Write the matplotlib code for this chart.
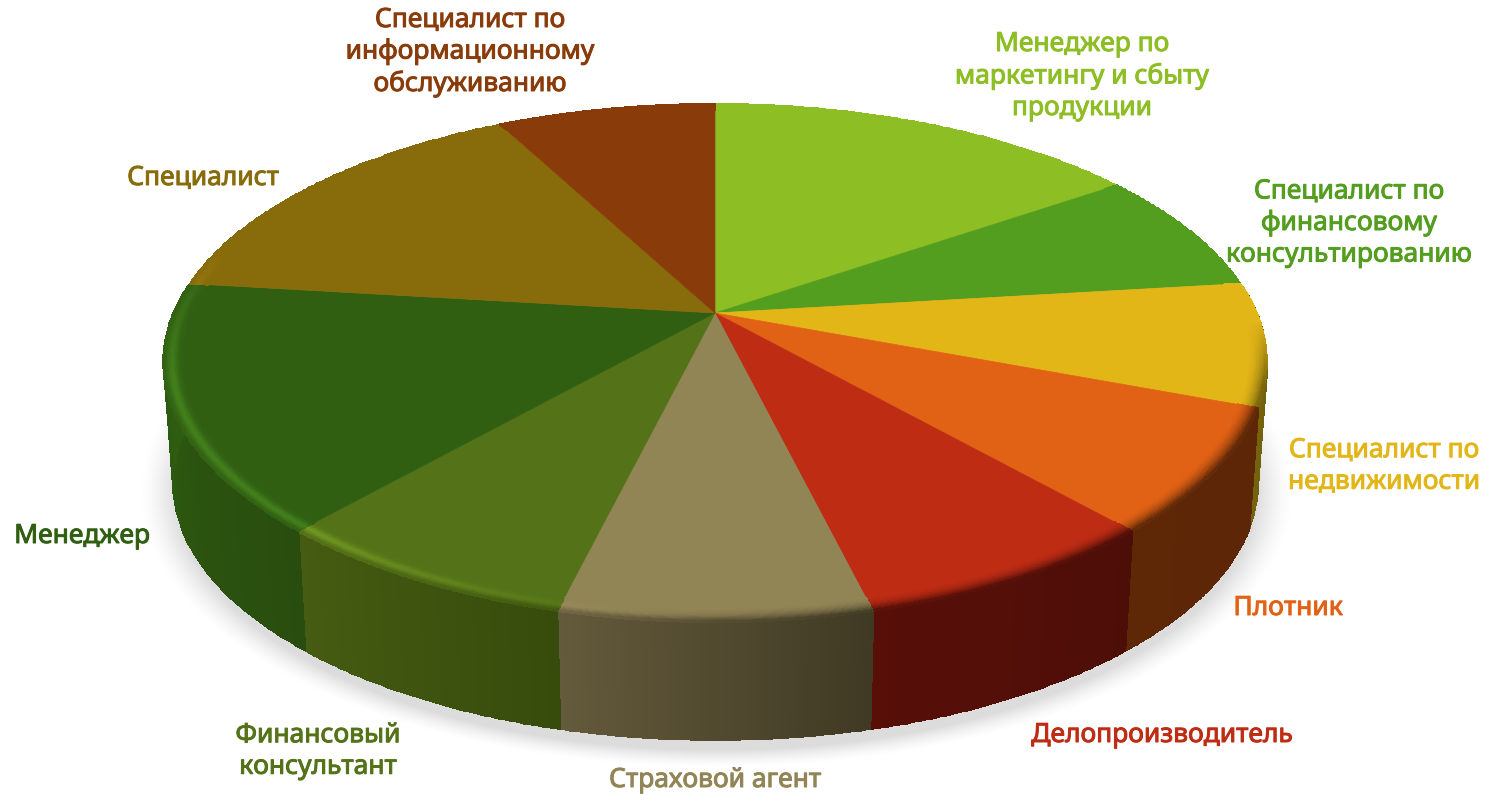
import matplotlib
matplotlib.use("Agg")
import matplotlib.pyplot as plt
import matplotlib.patheffects as pe
import numpy as np

# data
categories = ["Менеджер по\nмаркетингу и сбыту\nпродукции", "Специалист по\nфинансовому\nконсультированию",
              "Специалист по\nнедвижимости", "Плотник", "Делопроизводитель", "Страховой агент",
              "Финансовый\nконсультант", "Менеджер", "Специалист",
              "Специалист по\nинформационному\nобслуживанию"]
values = [2, 1, 1, 1, 1, 1, 1, 2, 2, 1]
colors = ["#8DBE24", "#539D1F", "#E3B618", "#E26215", "#BE2C14",
          "#918455", "#547217", "#305F12", "#886C0B", "#893B0A"]

# side wall colours, right end / left end of each slice
wall_right = ["#6A8C1A", "#3E7516", "#6B5A0A", "#5C2607", "#4E0E08",
              "#403A24", "#374C0C", "#294D0E", "#665008", "#672C07"]
wall_left = ["#6A8C1A", "#3E7516", "#75640C", "#5E2807", "#570F08",
             "#645A3C", "#465C12", "#2F6012", "#665008", "#672C07"]

label_x = [1082, 1349, 1384, 1288, 1162, 715, 318, 82, 203, 470]
label_y = [76, 223, 466, 608, 735, 780, 751, 536, 178, 52]

# projection of the pie
cx, cy = 715, 313
a, b, k = 541.6, 249.4, 0.193
drop, shrink = 123, 0.983


def proj(theta, r):
    th = np.radians(theta)
    u, v = r * np.sin(th), r * np.cos(th)
    w = 1 + k * v
    squeeze = 1 - 0.012 * np.minimum(v, 0) ** 2
    return cx + a * u * squeeze / w, cy - b * v / w


def rgb(c):
    return np.array(matplotlib.colors.to_rgb(c))


fig = plt.figure(figsize=(14.86, 7.94), dpi=100)
ax = fig.add_axes([0, 0, 1, 1])

# soft shadow under the pie
gx, gy = np.meshgrid(np.arange(1486), np.arange(794))
d = np.sqrt(((gx - 716) / 562) ** 2 + ((gy - 492) / 268) ** 2)
alpha = np.clip((1.03 - d) / 0.07, 0, 1) ** 1.5 * 0.14
shadow = np.zeros((794, 1486, 4))
shadow[..., 3] = alpha
ax.imshow(shadow, extent=(0, 1486, 794, 0), aspect="auto", zorder=1)

edges = np.concatenate([[0], np.cumsum(values)]) / sum(values) * 360

for i, val in enumerate(values):
    t0, t1 = edges[i], edges[i + 1]
    base = rgb(colors[i])
    wr, wl = rgb(wall_right[i]), rgb(wall_left[i])

    # side wall
    lo, hi = max(t0, 80), min(t1, 281)
    if hi > lo:
        th = np.linspace(lo, hi, 80)
        x, y = proj(th, 1.0)
        xb = cx + shrink * (x - cx)
        yb = cy + shrink * (y - cy) + drop
        f = (th[:-1] - lo) / (hi - lo)
        c = wr + (wl - wr) * f[:, None]
        ax.pcolormesh(np.array([x, xb]), np.array([y, yb]), c[None, :, :],
                      edgecolors="face", linewidth=0.4, zorder=2)

    # top of the slice
    th = np.linspace(t0, t1, 120)
    x, y = proj(th, 0.975)
    ax.fill(np.r_[cx, x], np.r_[cy, y], color=colors[i], lw=0.5, zorder=3)

    # rim, blends into the wall at the front and catches light on the left
    rr = np.linspace(0.965, 1.0, 16)
    tm, rm = np.meshgrid(th, rr)
    x, y = proj(tm, rm)
    tc = 0.5 * (th[:-1] + th[1:])
    rc = (0.5 * (rr[:-1] + rr[1:]) - 0.965) / 0.035
    front = np.clip((tc - 92) / 14, 0, 1) * np.clip((282 - tc) / 8, 0, 1)
    dark = np.clip((225 - tc) / 45, 0, 1)
    light = np.clip((tc - 175) / 45, 0, 1) * np.clip((285 - tc) / 30, 0, 1)
    wall_col = wr + (wl - wr) * ((tc - t0) / (t1 - t0))[:, None]
    c = np.zeros((len(rc), len(tc), 3))
    for j, q in enumerate(rc):
        blend = (front * (0.2 + 0.8 * dark) * np.clip(q, 0, 1) ** 2)[:, None]
        bump = (light * np.exp(-((q - 0.62) / 0.28) ** 2))[:, None]
        col = np.clip(base * (1 + 0.32 * bump) + 0.02 * bump, 0, 1)
        c[j] = col + (wall_col - col) * blend
    ax.pcolormesh(x, y, c, edgecolors="face", linewidth=0.3, zorder=4)

# labels
for name, col, lx, ly in zip(categories, colors, label_x, label_y):
    ax.text(lx, ly, name, color=col, ha="center", va="center", multialignment="center",
            fontsize=19, family="Noto Sans", linespacing=1.17, zorder=5,
            path_effects=[pe.withStroke(linewidth=0.7, foreground=col)])

ax.set_xlim(0, 1486)
ax.set_ylim(794, 0)
ax.axis("off")
fig.savefig("out.png", dpi=100)
